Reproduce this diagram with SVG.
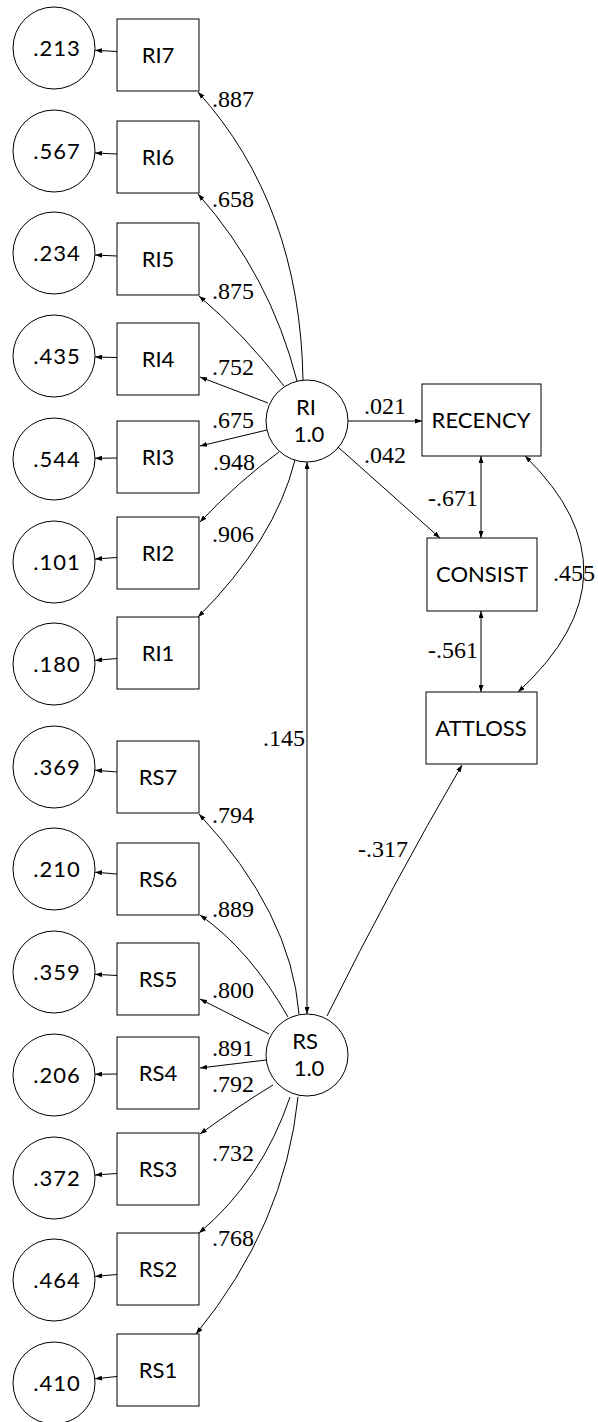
<svg xmlns="http://www.w3.org/2000/svg" width="598" height="1422" viewBox="0 0 598 1422">
<defs>
<style>
.box{fill:#fff;stroke:#000;stroke-width:1}
.circ{fill:#fff;stroke:#000;stroke-width:1}
.lbl{font-family:Lato,"Liberation Sans",sans-serif;font-size:22px;fill:#000;text-anchor:middle}
.err{font-family:Lato,"Liberation Sans",sans-serif;font-size:22px;fill:#000;text-anchor:middle;letter-spacing:1px}
.coef{font-family:"Liberation Serif","Times New Roman",serif;font-size:24px;fill:#000}
.c{fill:none;stroke:#000;stroke-width:1;marker-end:url(#ah)}
.d{fill:none;stroke:#000;stroke-width:1;marker-end:url(#ah);marker-start:url(#ah)}
</style>
<marker id="ah" viewBox="0 0 7 5" refX="7" refY="2.5" markerWidth="7" markerHeight="5" markerUnits="userSpaceOnUse" orient="auto-start-reverse">
<path d="M0,0 L7,2.5 L0,5 z" fill="#000"/>
</marker>
</defs>
<rect width="598" height="1422" fill="#fff"/>

<g id="e_RI7"><circle class="circ" cx="54" cy="48" r="41"/><text class="err" x="57" y="56">.213</text></g>
<g id="e_RI6"><circle class="circ" cx="54" cy="151" r="41"/><text class="err" x="57" y="159">.567</text></g>
<g id="e_RI5"><circle class="circ" cx="54" cy="253" r="41"/><text class="err" x="57" y="261">.234</text></g>
<g id="e_RI4"><circle class="circ" cx="54" cy="356" r="41"/><text class="err" x="57" y="364">.435</text></g>
<g id="e_RI3"><circle class="circ" cx="54" cy="459" r="41"/><text class="err" x="57" y="467">.544</text></g>
<g id="e_RI2"><circle class="circ" cx="54" cy="562" r="41"/><text class="err" x="57" y="570">.101</text></g>
<g id="e_RI1"><circle class="circ" cx="54" cy="664" r="41"/><text class="err" x="57" y="672">.180</text></g>
<g id="e_RS7"><circle class="circ" cx="54" cy="767" r="41"/><text class="err" x="57" y="775">.369</text></g>
<g id="e_RS6"><circle class="circ" cx="54" cy="869" r="41"/><text class="err" x="57" y="877">.210</text></g>
<g id="e_RS5"><circle class="circ" cx="54" cy="972" r="41"/><text class="err" x="57" y="980">.359</text></g>
<g id="e_RS4"><circle class="circ" cx="54" cy="1075" r="41"/><text class="err" x="57" y="1083">.206</text></g>
<g id="e_RS3"><circle class="circ" cx="54" cy="1178" r="41"/><text class="err" x="57" y="1186">.372</text></g>
<g id="e_RS2"><circle class="circ" cx="54" cy="1280" r="41"/><text class="err" x="57" y="1288">.464</text></g>
<g id="e_RS1"><circle class="circ" cx="54" cy="1383" r="41"/><text class="err" x="57" y="1391">.410</text></g>

<g id="RI7"><rect class="box" x="117" y="19" width="82" height="72"/><text class="lbl" x="158" y="63">RI7</text></g>
<g id="RI6"><rect class="box" x="117" y="121" width="82" height="72"/><text class="lbl" x="158" y="165">RI6</text></g>
<g id="RI5"><rect class="box" x="117" y="223" width="82" height="72"/><text class="lbl" x="158" y="267">RI5</text></g>
<g id="RI4"><rect class="box" x="117" y="323" width="82" height="72"/><text class="lbl" x="158" y="367">RI4</text></g>
<g id="RI3"><rect class="box" x="117" y="421" width="82" height="72"/><text class="lbl" x="158" y="465">RI3</text></g>
<g id="RI2"><rect class="box" x="117" y="517" width="82" height="72"/><text class="lbl" x="158" y="561">RI2</text></g>
<g id="RI1"><rect class="box" x="117" y="617" width="82" height="72"/><text class="lbl" x="158" y="661">RI1</text></g>
<g id="RS7"><rect class="box" x="117" y="741" width="82" height="72"/><text class="lbl" x="158" y="785">RS7</text></g>
<g id="RS6"><rect class="box" x="117" y="843" width="82" height="72"/><text class="lbl" x="158" y="887">RS6</text></g>
<g id="RS5"><rect class="box" x="117" y="943" width="82" height="72"/><text class="lbl" x="158" y="987">RS5</text></g>
<g id="RS4"><rect class="box" x="117" y="1037" width="82" height="72"/><text class="lbl" x="158" y="1081">RS4</text></g>
<g id="RS3"><rect class="box" x="117" y="1133" width="82" height="72"/><text class="lbl" x="158" y="1177">RS3</text></g>
<g id="RS2"><rect class="box" x="117" y="1233" width="82" height="72"/><text class="lbl" x="158" y="1277">RS2</text></g>
<g id="RS1"><rect class="box" x="117" y="1334" width="82" height="72"/><text class="lbl" x="158" y="1378">RS1</text></g>

<g id="RI"><circle class="circ" cx="307" cy="421" r="41"/><text class="lbl" x="306" y="415">RI</text><text class="lbl" x="309" y="442">1.0</text></g>
<g id="RS"><circle class="circ" cx="307" cy="1055" r="41"/><text class="lbl" x="305" y="1049">RS</text><text class="lbl" x="309" y="1076">1.0</text></g>

<g id="RECENCY"><rect class="box" x="422" y="384" width="119" height="72"/><text class="lbl" x="481" y="428">RECENCY</text></g>
<g id="CONSIST"><rect class="box" x="427" y="538" width="110" height="73"/><text class="lbl" x="482" y="582">CONSIST</text></g>
<g id="ATTLOSS"><rect class="box" x="426" y="692" width="111" height="72"/><text class="lbl" x="481" y="736">ATTLOSS</text></g>

<g id="connectors">
<path class="c" d="M117,51.5 L95,50.3"/>
<path class="c" d="M117,154 L95,153"/>
<path class="c" d="M117,256 L95,255"/>
<path class="c" d="M117,357.5 L95,357"/>
<path class="c" d="M117,458 L95,458.3"/>
<path class="c" d="M117,557.5 L95,559"/>
<path class="c" d="M117,658.5 L95,660.4"/>
<path class="c" d="M117,772 L95,770.2"/>
<path class="c" d="M117,874 L95,872.2"/>
<path class="c" d="M117,975.5 L95,974.3"/>
<path class="c" d="M117,1074 L95,1074.3"/>
<path class="c" d="M117,1173.5 L95,1175"/>
<path class="c" d="M117,1274.5 L95,1276.4"/>
<path class="c" d="M117,1376.5 L95,1378.8"/>

<path class="c" d="M303,380 Q300,205 198,92"/>
<path class="c" d="M297,381 Q270,275 198,194"/>
<path class="c" d="M284,386 Q245,335 199,296"/>
<path class="c" d="M268,403 L200,377"/>
<path class="c" d="M267,430 L200,446"/>
<path class="c" d="M279,452 Q240,480 200,522"/>
<path class="c" d="M295,460 Q275,540 198,617"/>

<path class="c" d="M299,1014 Q291,913 199,814"/>
<path class="c" d="M288,1017 Q250,950 200,915"/>
<path class="c" d="M269,1034 L200,999"/>
<path class="c" d="M266,1060 L200,1068"/>
<path class="c" d="M273,1085 Q240,1105 200,1134"/>
<path class="c" d="M290,1097 Q262,1180 199,1233"/>
<path class="c" d="M298,1097 Q285,1225 196,1334"/>

<path class="d" d="M307,462 L307,1014"/>
<path class="c" d="M348,421 L422,421"/>
<path class="c" d="M338,447 L440,538"/>
<path class="d" d="M481,456 L481,538"/>
<path class="d" d="M481,611 L481,692"/>
<path class="d" d="M525,456 Q646,574 518,692"/>
<path class="c" d="M327,1016 Q392,885 462,765"/>

<text class="coef" x="212" y="107">.887</text>
<text class="coef" x="212" y="207">.658</text>
<text class="coef" x="212" y="299">.875</text>
<text class="coef" x="212" y="375">.752</text>
<text class="coef" x="212" y="428">.675</text>
<text class="coef" x="213" y="470">.948</text>
<text class="coef" x="212" y="542">.906</text>
<text class="coef" x="263" y="746">.145</text>
<text class="coef" x="212" y="823">.794</text>
<text class="coef" x="212" y="917">.889</text>
<text class="coef" x="212" y="998">.800</text>
<text class="coef" x="212" y="1056">.891</text>
<text class="coef" x="212" y="1092">.792</text>
<text class="coef" x="212" y="1161">.732</text>
<text class="coef" x="212" y="1246">.768</text>
<text class="coef" x="358" y="857">-.317</text>
<text class="coef" x="364" y="414">.021</text>
<text class="coef" x="364" y="463">.042</text>
<text class="coef" x="428" y="506">-.671</text>
<text class="coef" x="428" y="658">-.561</text>
<text class="coef" x="553" y="581">.455</text>
</g>
</svg>
